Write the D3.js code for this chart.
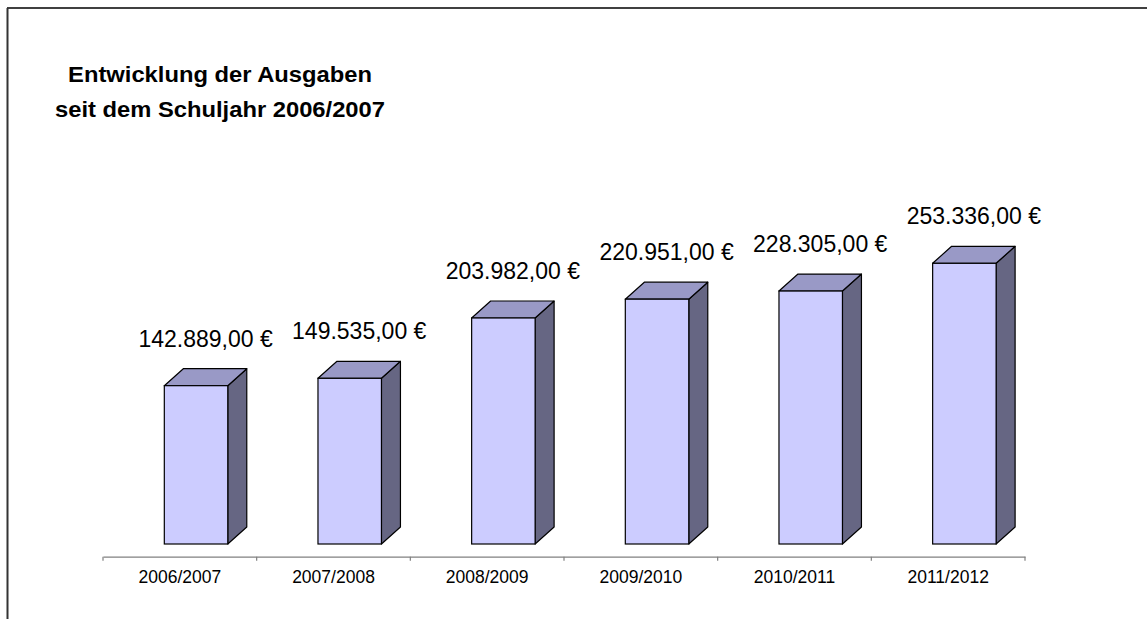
<!DOCTYPE html>
<html>
<head>
<meta charset="utf-8">
<script src="https://cdn.jsdelivr.net/npm/d3@7"></script>
<style>
  body { margin: 0; background: #fff; }
  text { font-family: "Liberation Sans", Arial, sans-serif; }
</style>
</head>
<body>
<div id="chart"></div>
<script>
const years = ["2006/2007", "2007/2008", "2008/2009", "2009/2010", "2010/2011", "2011/2012"];
const spending = [142889, 149535, 203982, 220951, 228305, 253336];
const titleLines = ["Entwicklung der Ausgaben", "seit dem Schuljahr 2006/2007"];

const width = 1147;
const height = 619;
const depth = {dx: 19, dy: 17};

const svg = d3.select("#chart")
    .append("svg")
    .attr("width", width)
    .attr("height", height);

// frame (only top and left edges show)
svg.append("line")
    .attr("x1", 7).attr("x2", width)
    .attr("y1", 8).attr("y2", 8)
    .attr("stroke", "#000").attr("stroke-width", 1.5);
svg.append("line")
    .attr("x1", 7.5).attr("x2", 7.5)
    .attr("y1", 8).attr("y2", height)
    .attr("stroke", "#333").attr("stroke-width", 2);

// title, slightly stretched like the original
svg.append("text")
    .attr("transform", "translate(220,0) scale(1.08,1)")
    .attr("text-anchor", "middle")
    .attr("font-size", "22px")
    .attr("font-weight", "bold")
    .selectAll("tspan")
    .data(titleLines)
    .join("tspan")
    .attr("x", 0)
    .attr("y", (d, i) => 82 + i * 35)
    .text(d => d);

const x = d3.scaleBand()
    .domain(years)
    .range([103, 1025]);

const y = d3.scaleLinear()
    .domain([0, 300000])
    .range([544, 211.6]);

const fmt = d3.formatLocale({decimal: ",", thousands: ".", grouping: [3], currency: ["", " €"]});
const euro = fmt.format("$,.2f");

// category axis
const axisY = 556.7;
const axis = svg.append("g")
    .attr("transform", `translate(0,${axisY})`)
    .call(d3.axisBottom(x).tickSize(0).tickPadding(13.6));
axis.select(".domain").attr("stroke", "#808080").attr("stroke-width", 1.2);
axis.selectAll("text")
    .attr("font-size", "17.5px")
    .attr("font-family", "'Liberation Sans', Arial, sans-serif")
    .attr("fill", "#000");

// tick marks at band boundaries
const bounds = years.map(d => x(d)).concat([x.range()[1]]);
svg.append("g")
    .selectAll("line")
    .data(bounds)
    .join("line")
    .attr("x1", d => d).attr("x2", d => d)
    .attr("y1", axisY).attr("y2", axisY + 4)
    .attr("stroke", "#808080").attr("stroke-width", 1.2);

const bw = x.bandwidth() * 0.413;
const off = x.bandwidth() * 0.399;

const data = years.map((c, i) => ({cat: c, value: spending[i]}));

const bars = svg.append("g")
    .selectAll("g")
    .data(data)
    .join("g");

// side face
bars.append("path")
    .attr("fill", "#666683")
    .attr("stroke", "#000")
    .attr("stroke-width", 1.2)
    .attr("stroke-linejoin", "round")
    .attr("d", d => {
        const x1 = x(d.cat) + off + bw;
        const y0 = y(0), y1 = y(d.value);
        return `M${x1},${y0}L${x1 + depth.dx},${y0 - depth.dy}L${x1 + depth.dx},${y1 - depth.dy}L${x1},${y1}Z`;
    });

// top face
bars.append("path")
    .attr("fill", "#9999c6")
    .attr("stroke", "#000")
    .attr("stroke-width", 1.2)
    .attr("stroke-linejoin", "round")
    .attr("d", d => {
        const x0 = x(d.cat) + off, x1 = x0 + bw;
        const y1 = y(d.value);
        return `M${x0},${y1}L${x0 + depth.dx},${y1 - depth.dy}L${x1 + depth.dx},${y1 - depth.dy}L${x1},${y1}Z`;
    });

// front face
bars.append("rect")
    .attr("x", d => x(d.cat) + off)
    .attr("y", d => y(d.value))
    .attr("width", bw)
    .attr("height", d => y(0) - y(d.value))
    .attr("fill", "#ccccff")
    .attr("stroke", "#000")
    .attr("stroke-width", 1.2);

// value labels
bars.append("text")
    .attr("x", d => x(d.cat) + off + (bw + depth.dx) / 2)
    .attr("y", d => y(d.value) - depth.dy - 22)
    .attr("text-anchor", "middle")
    .attr("font-size", "23px")
    .text(d => euro(d.value));
</script>
</body>
</html>
